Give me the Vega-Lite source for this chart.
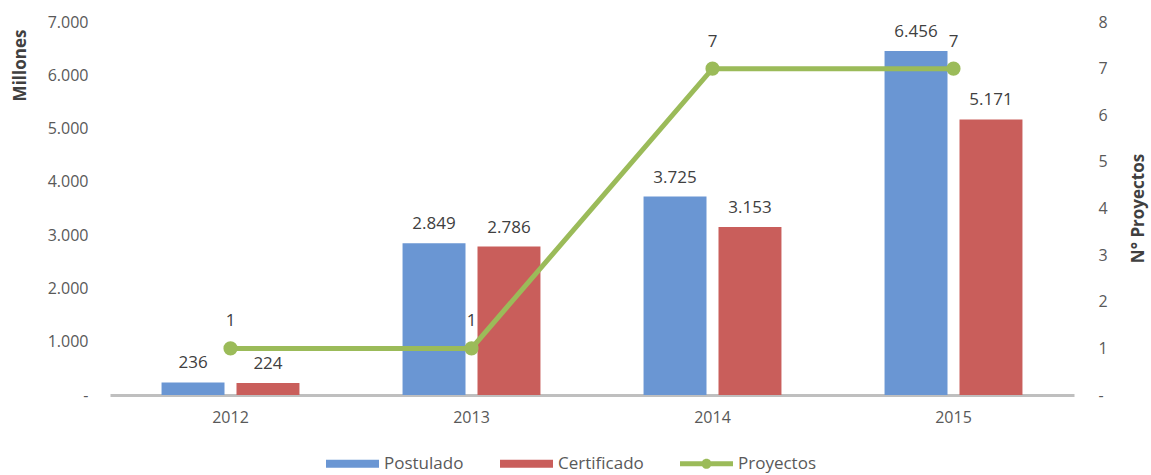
{
  "$schema": "https://vega.github.io/schema/vega-lite/v6.json",
  "width": 964,
  "height": 373,
  "autosize": {"type": "none"},
  "padding": {"left": 110, "top": 22, "right": 77, "bottom": 80},
  "background": "white",
  "config": {
    "view": {"stroke": null},
    "font": "Open Sans",
    "locale": {"number": {"decimal": ",", "thousands": ".", "grouping": [3], "currency": ["$", ""]}},
    "axis": {"grid": false, "ticks": false, "labelFont": "Open Sans", "labelFontSize": 16, "labelColor": "#595959", "titleFont": "Open Sans", "titleFontSize": 17, "titleFontWeight": "bold", "titleColor": "#404040"}
  },
  "datasets": {
    "bars": [
      {"year": "2012", "serie": "Postulado", "value": 236},
      {"year": "2012", "serie": "Certificado", "value": 224},
      {"year": "2013", "serie": "Postulado", "value": 2849},
      {"year": "2013", "serie": "Certificado", "value": 2786},
      {"year": "2014", "serie": "Postulado", "value": 3725},
      {"year": "2014", "serie": "Certificado", "value": 3153},
      {"year": "2015", "serie": "Postulado", "value": 6456},
      {"year": "2015", "serie": "Certificado", "value": 5171}
    ],
    "line": [
      {"year": "2012", "serie": "Proyectos", "proyectos": 1},
      {"year": "2013", "serie": "Proyectos", "proyectos": 1},
      {"year": "2014", "serie": "Proyectos", "proyectos": 7},
      {"year": "2015", "serie": "Proyectos", "proyectos": 7}
    ]
  },
  "encoding": {
    "x": {
      "field": "year", "type": "nominal",
      "scale": {"paddingInner": 0.378, "paddingOuter": 0.189},
      "axis": {"title": null, "labelAngle": 0, "labelFontSize": 16, "domain": true, "domainColor": "#bfbfbf", "domainWidth": 3, "labelPadding": 14}
    }
  },
  "layer": [
    {
      "data": {"name": "bars"},
      "encoding": {
        "xOffset": {"field": "serie", "type": "nominal", "sort": ["Postulado", "Certificado"], "scale": {"domain": ["Postulado", "Certificado"], "paddingInner": 0.16, "paddingOuter": 0.08}},
        "y": {
          "field": "value", "type": "quantitative",
          "scale": {"domain": [0, 7000], "nice": false},
          "axis": {"title": "Millones", "values": [0, 1000, 2000, 3000, 4000, 5000, 6000, 7000], "labelExpr": "datum.value === 0 ? '-\u00a0\u00a0\u00a0' : format(datum.value, ',')", "domain": false, "labelPadding": 22, "titleAngle": 270, "titleX": -85, "titleY": 43, "titleAlign": "center", "titleBaseline": "alphabetic"}
        }
      },
      "layer": [
        {
          "mark": {"type": "bar"},
          "encoding": {
            "color": {"field": "serie", "type": "nominal", "scale": {"domain": ["Postulado", "Certificado", "Proyectos"], "range": ["#6a96d3", "#c95e5b", "#9bbb59"]}, "legend": {"title": null, "orient": "none", "direction": "horizontal", "legendX": 216, "legendY": 415, "labelFont": "Open Sans", "labelFontSize": 17, "labelColor": "#595959", "symbolSize": 2809, "symbolStrokeWidth": 0, "labelOffset": 5, "columnPadding": 36}}
          }
        },
        {
          "mark": {"type": "text", "baseline": "alphabetic", "dy": -14, "fontSize": 17, "color": "#404040", "font": "Open Sans"},
          "encoding": {"text": {"field": "value", "type": "quantitative", "format": ","}}
        }
      ]
    },
    {
      "data": {"name": "line"},
      "encoding": {
        "y": {
          "field": "proyectos", "type": "quantitative",
          "scale": {"domain": [0, 8], "nice": false},
          "axis": {"orient": "right", "title": "N° Proyectos", "values": [0, 1, 2, 3, 4, 5, 6, 7, 8], "labelExpr": "datum.value === 0 ? '-' : datum.label", "domain": false, "labelPadding": 24, "titleAngle": 270, "titleX": 69, "titleY": 186, "titleAlign": "center", "titleBaseline": "alphabetic"}
        }
      },
      "layer": [
        {
          "mark": {"type": "line", "strokeWidth": 5},
          "encoding": {"color": {"field": "serie", "type": "nominal"}}
        },
        {
          "mark": {"type": "point", "shape": "circle", "filled": true, "opacity": 1, "size": 200},
          "encoding": {"color": {"field": "serie", "type": "nominal"}}
        },
        {
          "transform": [{"filter": "false"}],
          "mark": {"type": "point", "filled": true, "opacity": 1},
          "encoding": {
            "color": {"field": "serie", "type": "nominal"},
            "shape": {"field": "serie", "type": "nominal", "scale": {"domain": ["Postulado", "Certificado", "Proyectos"], "range": ["M-1,-0.15L1,-0.15L1,0.15L-1,0.15Z", "M-1,-0.15L1,-0.15L1,0.15L-1,0.15Z", "M-1,-0.09L-0.17,-0.09L-0.17,0.09L-1,0.09Z M0.17,-0.09L1,-0.09L1,0.09L0.17,0.09Z M0.19,0A0.19,0.19 0 1 1 -0.19,0A0.19,0.19 0 1 1 0.19,0Z"]}}
          }
        },
        {
          "mark": {"type": "text", "baseline": "alphabetic", "dy": -22, "fontSize": 17, "color": "#404040", "font": "Open Sans"},
          "encoding": {"text": {"field": "proyectos", "type": "quantitative"}}
        }
      ]
    }
  ],
  "resolve": {"scale": {"y": "independent"}}
}
